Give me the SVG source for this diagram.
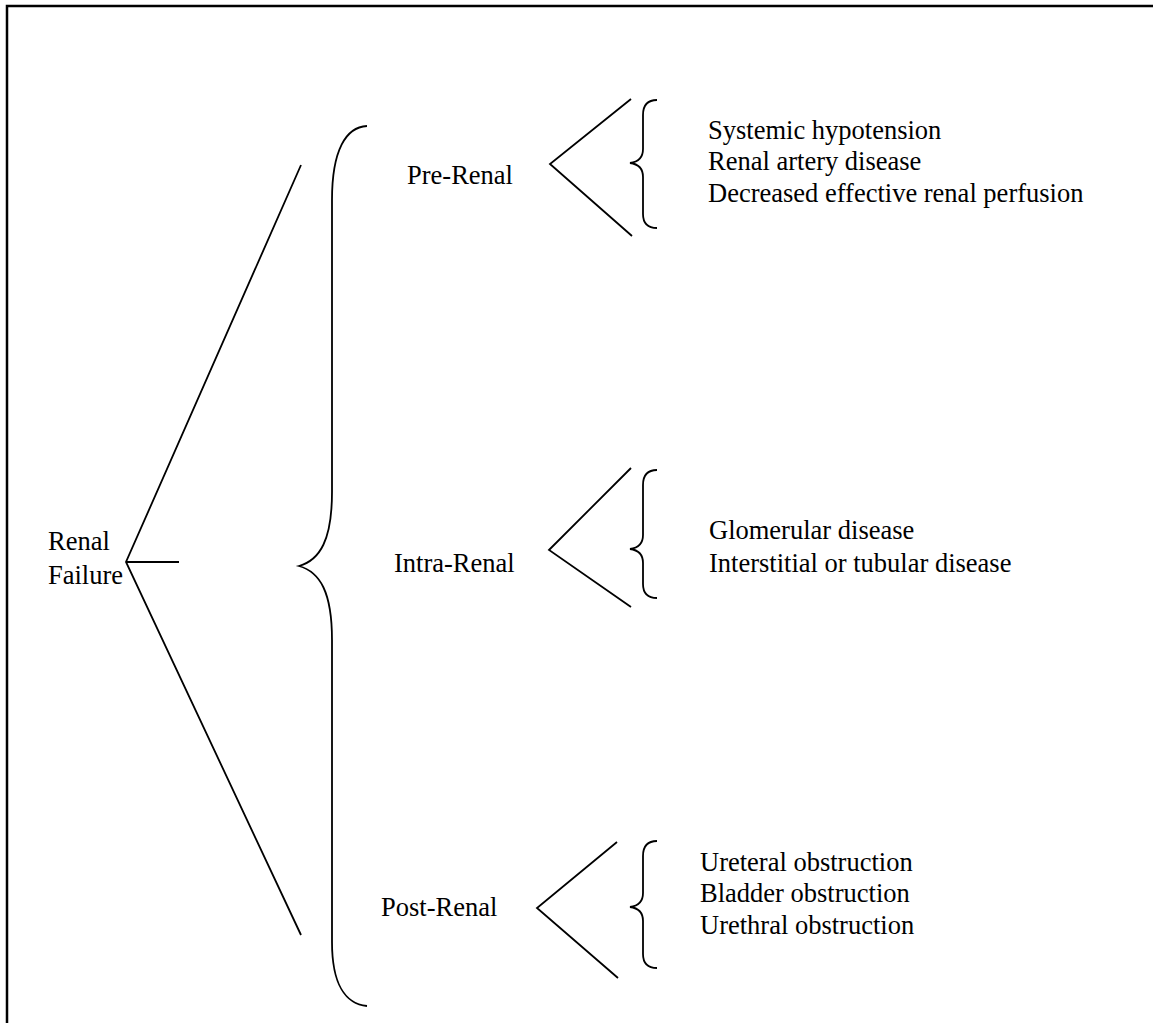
<svg xmlns="http://www.w3.org/2000/svg" width="1153" height="1023" viewBox="0 0 1153 1023">
<style>
.ln{fill:none;stroke:#000;stroke-width:1.8;stroke-linecap:butt}
.fr{fill:none;stroke:#000;stroke-width:2.5}
.t{font-family:'Liberation Serif','DejaVu Serif',serif;font-size:26.5px;fill:#000}
</style>
<rect width="1153" height="1023" fill="#fff"/>
<rect class="fr" x="7" y="6" width="1160" height="1030"/>
<g id="connectors">
<path class="ln" d="M301,165 L126,562 L301,935 M126,562 L179,562"/>
<path class="ln" d="M367,126 C346,127 332,150 332,200 L332,492 C332,540 320,560 299,566 C320,572 332,592 332,640 L332,942 C332,985 346,1004 367,1006"/>
<path class="ln" d="M631,99 L550,164 L632,236"/>
<path class="ln" d="M657,100 C648,100 643,105 643,115 L643,149 C643,158 638,162 630,163 C638,164 643,168 643,177 L643,214 C643,223 648,228 657,228"/>
<path class="ln" d="M631,468 L549,550 L631,607"/>
<path class="ln" d="M657,470 C648,470 643,475 643,485 L643,535 C643,544 638,548 630,549 C638,550 643,554 643,563 L643,584 C643,593 648,598 657,598"/>
<path class="ln" d="M617,842 L537,908 L618,978"/>
<path class="ln" d="M657,841 C648,841 643,846 643,856 L643,893 C643,902 638,906 630,907 C638,908 643,912 643,921 L643,954 C643,963 648,968 657,968"/>
</g>
<g id="root"><text class="t" font-family="Liberation Serif" x="48" y="550">Renal</text><text class="t" font-family="Liberation Serif" x="48" y="584">Failure</text></g>
<g id="pre"><text class="t" x="407" y="184">Pre-Renal</text></g>
<g id="pre-causes"><text class="t" x="708" y="139">Systemic hypotension</text><text class="t" x="708" y="170">Renal artery disease</text><text class="t" x="708" y="202">Decreased effective renal perfusion</text></g>
<g id="intra"><text class="t" x="394" y="572">Intra-Renal</text></g>
<g id="intra-causes"><text class="t" x="709" y="539">Glomerular disease</text><text class="t" x="709" y="572">Interstitial or tubular disease</text></g>
<g id="post"><text class="t" x="381" y="916">Post-Renal</text></g>
<g id="post-causes"><text class="t" x="700" y="871">Ureteral obstruction</text><text class="t" x="700" y="902">Bladder obstruction</text><text class="t" x="700" y="934">Urethral obstruction</text></g>
</svg>
